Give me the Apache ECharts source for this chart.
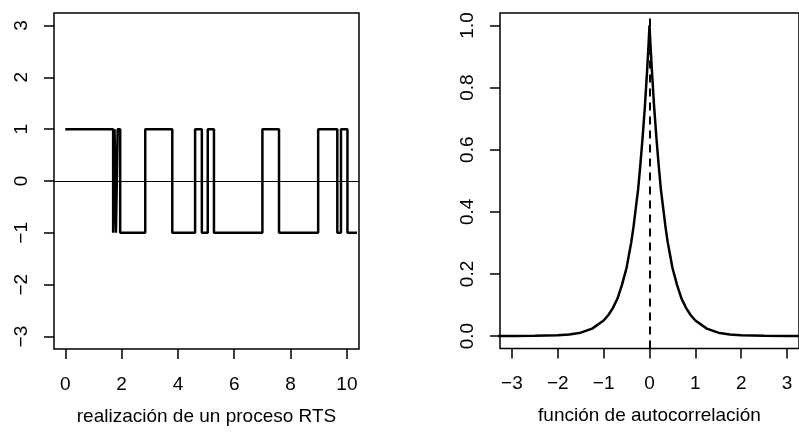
<!DOCTYPE html>
<html>
<head>
<meta charset="utf-8">
<script src="https://cdn.jsdelivr.net/npm/echarts@6/dist/echarts.min.js"></script>
<style>
html,body{margin:0;padding:0;background:#fff;}
#chart{width:799px;height:440px;}
</style>
</head>
<body>
<div id="chart"></div>
<script>
// ---- Left panel: realization of an RTS process (switch times and levels)
var rtsTimes  = [0, 1.70, 1.75, 1.80, 1.86, 1.95, 2.84, 3.80, 4.61, 4.85, 5.06, 5.28, 7.00, 7.59, 8.98, 9.66, 9.79, 10.02, 10.36];
var rtsLevels = [1, -1, 1, -1, 1, -1, 1, -1, 1, -1, 1, -1, 1, -1, 1, -1, 1, -1, -1];
var rtsXTicks = [0, 2, 4, 6, 8, 10];
var rtsYTicks = [-3, -2, -1, 0, 1, 2, 3];
var rtsTitle = 'realización de un proceso RTS';

// ---- Right panel: autocorrelation function
var acfLags = [-3.3, -3, -2.5, -2, -1.75, -1.5, -1.25, -1, -0.9, -0.8, -0.7, -0.6, -0.5, -0.45, -0.4, -0.35, -0.3, -0.25, -0.2, -0.15, -0.1, -0.05, -0.02, 0,
               0.02, 0.05, 0.1, 0.15, 0.2, 0.25, 0.3, 0.35, 0.4, 0.45, 0.5, 0.6, 0.7, 0.8, 0.9, 1, 1.25, 1.5, 1.75, 2, 2.5, 3, 3.3];
var acfValues = [0, 0, 0.001, 0.003, 0.005, 0.011, 0.024, 0.05, 0.067, 0.09, 0.12, 0.165, 0.22, 0.26, 0.30, 0.35, 0.41, 0.47, 0.55, 0.64, 0.74, 0.86, 0.94, 1.0,
                 0.94, 0.86, 0.74, 0.64, 0.55, 0.47, 0.41, 0.35, 0.30, 0.26, 0.22, 0.165, 0.12, 0.09, 0.067, 0.05, 0.024, 0.011, 0.005, 0.003, 0.001, 0, 0];
var acfXTicks = [-3, -2, -1, 0, 1, 2, 3];
var acfYTicks = [0, 0.2, 0.4, 0.6, 0.8, 1.0];
var acfTitle = 'función de autocorrelación';

function pairs(xs, ys){ return xs.map(function(x,i){ return [x, ys[i]]; }); }
function minus(v){ return String(v).replace('-', '\u2212'); }

var FONT = '"Liberation Sans", Arial, Helvetica, sans-serif';
var FS = 19;

var chart = echarts.init(document.getElementById('chart'), null, {renderer:'canvas'});
chart.setOption({
  animation: false,
  backgroundColor: '#fff',
  textStyle: {fontFamily: FONT, color: '#000'},
  grid: [
    {left: 54, top: 13, width: 305, height: 336, show: true, borderColor: '#000', borderWidth: 1.5, backgroundColor: 'transparent'},
    {left: 500, top: 13, width: 308, height: 335.5, show: true, borderColor: '#000', borderWidth: 1.5, backgroundColor: 'transparent'}
  ],
  xAxis: [
    {gridIndex: 0, type: 'value', position: 'bottom', min: -0.4, max: 10.43,
     axisLine: {show: false, onZero: false}, splitLine: {show: false},
     axisTick: {show: true, inside: false, length: 10, customValues: rtsXTicks, lineStyle: {color: '#000', width: 1.5}},
     axisLabel: {show: true, customValues: rtsXTicks, margin: 26, fontSize: FS, fontFamily: FONT, color: '#000', formatter: minus},
     name: rtsTitle, nameLocation: 'middle', nameGap: 58, nameTextStyle: {fontSize: FS, fontFamily: FONT, color: '#000'}},
    {gridIndex: 1, type: 'value', position: 'bottom', min: -3.26, max: 3.26,
     axisLine: {show: false, onZero: false}, splitLine: {show: false},
     axisTick: {show: true, inside: false, length: 10, customValues: acfXTicks, lineStyle: {color: '#000', width: 1.5}},
     axisLabel: {show: true, customValues: acfXTicks, margin: 26, fontSize: FS, fontFamily: FONT, color: '#000', formatter: minus},
     name: acfTitle, nameLocation: 'middle', nameGap: 58, nameTextStyle: {fontSize: FS, fontFamily: FONT, color: '#000'}}
  ],
  yAxis: [
    {gridIndex: 0, type: 'value', position: 'left', min: -3.24, max: 3.24,
     axisLine: {show: false, onZero: false}, splitLine: {show: false},
     axisTick: {show: true, inside: false, length: 10, customValues: rtsYTicks, lineStyle: {color: '#000', width: 1.5}},
     axisLabel: {show: true, customValues: rtsYTicks, rotate: 90, margin: 23, fontSize: FS, fontFamily: FONT, color: '#000', formatter: minus}},
    {gridIndex: 1, type: 'value', position: 'left', min: -0.04, max: 1.04,
     axisLine: {show: false, onZero: false}, splitLine: {show: false},
     axisTick: {show: true, inside: false, length: 10, customValues: acfYTicks, lineStyle: {color: '#000', width: 1.5}},
     axisLabel: {show: true, customValues: acfYTicks, rotate: 90, margin: 23, fontSize: FS, fontFamily: FONT, color: '#000',
                 formatter: function(v){ return Number(v).toFixed(1); }}}
  ],
  series: [
    {type: 'line', xAxisIndex: 0, yAxisIndex: 0, step: 'end', showSymbol: false, silent: true,
     data: pairs(rtsTimes, rtsLevels),
     lineStyle: {color: '#000', width: 2.5},
     markLine: {silent: true, symbol: 'none', label: {show: false},
                lineStyle: {color: '#000', width: 1.2, type: 'solid'},
                data: [{yAxis: 0}]}},
    {type: 'line', xAxisIndex: 1, yAxisIndex: 1, showSymbol: false, silent: true, clip: true,
     data: pairs(acfLags, acfValues),
     lineStyle: {color: '#000', width: 2.5},
     markLine: {silent: true, symbol: 'none', label: {show: false},
                lineStyle: {color: '#000', width: 2, type: [8, 6]},
                data: [{xAxis: 0}]}}
  ]
});
</script>
</body>
</html>
